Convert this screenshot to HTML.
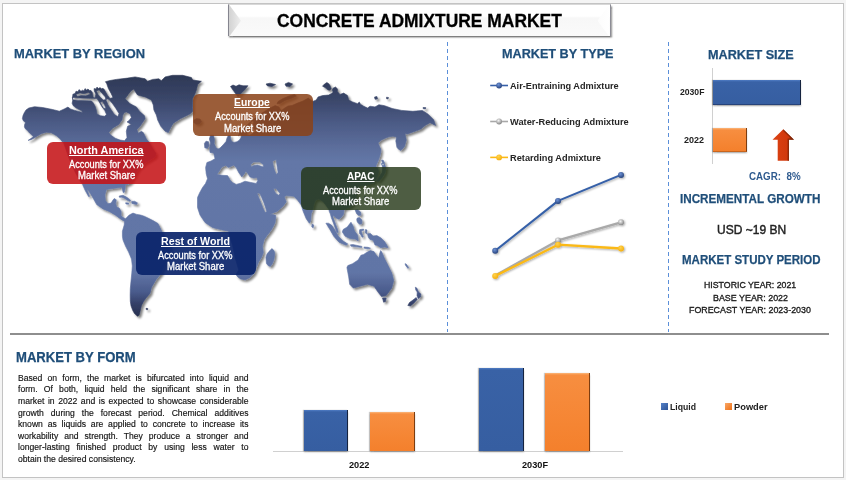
<!DOCTYPE html>
<html><head><meta charset="utf-8"><title>Concrete Admixture Market</title>
<style>
html,body{margin:0;padding:0;}
body{width:846px;height:480px;background:#f4f4f4;position:relative;overflow:hidden;font-family:"Liberation Sans",sans-serif;}
#frame{position:absolute;left:2px;top:3px;width:842px;height:475px;background:#fff;border:1px solid #c3c3c3;box-sizing:border-box;}
.t{position:absolute;white-space:nowrap;line-height:1;transform-origin:0 50%;}
.rb{position:absolute;border-radius:6px;}
.pl{position:absolute;left:18.4px;font-size:8.9px;line-height:1;color:#111;text-align:justify;text-align-last:justify;white-space:nowrap;transform-origin:0 50%;-webkit-text-stroke:0.15px #111;}
#hl{position:absolute;left:10px;top:333px;width:818.5px;height:1.7px;background:#8e8e8e;}
.vd{position:absolute;top:42px;width:1.2px;height:290px;background:repeating-linear-gradient(to bottom,#5b8fd9 0,#5b8fd9 4.4px,transparent 4.4px,transparent 7px);}
#title{position:absolute;left:228px;top:3.5px;width:382.5px;height:32.4px;background:linear-gradient(to bottom,#fff 0%,#fff 36%,#f7f7f7 42%,#fafafa 100%);box-shadow:1px 1.5px 1.6px rgba(0,0,0,0.5);border-left:1.2px solid #85858f;border-right:1px solid #8d8d96;border-top:1px solid #d8d8d8;box-sizing:border-box;overflow:hidden;}
#title:before{content:"";position:absolute;left:0;top:0;width:12px;height:32.4px;background:linear-gradient(to right,#d2d2d2,#eeeeee);clip-path:polygon(0 0,100% 50%,0 100%);}
#title:after{content:"";position:absolute;right:0;top:0;width:12px;height:32.4px;background:linear-gradient(to left,#ffffff,#fcfcfc);clip-path:polygon(100% 0,0 50%,100% 100%);}
.bar{position:absolute;box-sizing:border-box;}
.bl{background:linear-gradient(to bottom,#4f7cc4 0,#3962a6 2px,#365ea1 100%);border-right:1.5px solid #15233f;box-shadow:-1px 0 1px rgba(0,0,0,0.25),0 1.5px 1.5px rgba(0,0,0,0.25);}
.or{background:linear-gradient(to bottom,#fbb77c 0,#f78e40 2px,#f4802c 100%);border-right:1.5px solid #7d3d10;box-shadow:-1px 0 1px rgba(0,0,0,0.2),0 1.5px 1.5px rgba(0,0,0,0.25);}
.ax{position:absolute;background:#d0d0d0;}
</style></head><body>
<div id="frame"></div>
<div id="hl"></div>
<div class="vd" style="left:446.9px"></div>
<div class="vd" style="left:667.9px"></div>
<div id="title"></div>
<svg id="map" style="position:absolute;left:0;top:60px" width="450" height="270" viewBox="0 60 450 270">
<defs>
<linearGradient id="mgr" gradientUnits="userSpaceOnUse" x1="0" y1="75" x2="0" y2="316"><stop offset="0" stop-color="#2d3855"/><stop offset="0.1" stop-color="#3a4669"/><stop offset="0.2" stop-color="#4c5b86"/><stop offset="0.3" stop-color="#5c6e9c"/><stop offset="0.36" stop-color="#6377a7"/><stop offset="0.82" stop-color="#6175a6"/><stop offset="0.9" stop-color="#4a5b8c"/><stop offset="0.95" stop-color="#344067"/><stop offset="1" stop-color="#28314f"/></linearGradient>
<filter id="msh" x="-5%" y="-5%" width="110%" height="110%"><feGaussianBlur in="SourceAlpha" stdDeviation="1.1"/><feOffset dx="1.6" dy="1.8"/><feComponentTransfer><feFuncA type="linear" slope="0.5"/></feComponentTransfer><feMerge><feMergeNode/><feMergeNode in="SourceGraphic"/></feMerge></filter>
</defs>
<path fill="url(#mgr)" fill-rule="evenodd" filter="url(#msh)" stroke="url(#mgr)" stroke-width="0.6" stroke-linejoin="round" d="M22.4 118.7L23.0 115.5L24.4 112.5L26.0 110.0L28.7 108.1L34.5 106.7L42.5 107.5L52.5 109.5L59.3 111.2L64.2 109.0L67.9 107.1L70.8 109.2L75.0 110.4L82.5 112.5L81.7 110.8L76.7 108.3L73.3 105.8L72.1 103.3L72.9 99.6L72.5 97.5L72.9 94.2L75.0 93.5L76.0 91.2L78.0 91.8L79.0 89.6L81.0 91.3L82.5 90.2L84.0 91.0L85.0 88.6L86.5 90.0L88.0 89.0L89.5 90.5L91.0 90.5L92.3 92.5L93.2 97.5L95.0 98.0L95.8 94.0L94.3 91.0L94.0 88.6L96.0 89.0L97.0 87.1L98.5 88.6L100.0 87.6L101.5 88.8L103.0 88.3L104.3 89.6L105.6 92.0L107.6 95.4L110.0 98.6L113.0 97.4L111.0 93.2L108.3 88.3L106.8 83.8L105.4 81.7L110.0 80.5L116.3 79.4L127.6 78.1L135.1 76.9L145.2 78.8L147.5 81.3L152.6 79.4L158.8 78.8L161.3 80.7L165.1 76.9L172.6 75.3L182.6 75.3L191.4 77.5L192.7 80.0L201.4 81.3L197.7 84.4L196.4 90.1L194.5 95.1L192.7 98.8L192.5 107.6L192.8 111.3L190.3 113.8L186.5 115.7L180.2 118.8L173.3 123.2L170.8 127.6L168.3 132.6L165.2 131.3L160.8 126.3L157.7 120.1L156.4 115.0L153.9 110.0L153.3 105.0L151.4 100.0L145.1 96.9L137.6 95.0L135.0 91.3L133.9 88.9L131.0 91.0L128.2 94.4L125.1 98.8L130.1 103.8L136.4 106.9L139.5 111.3L144.5 115.7L145.1 118.8L142.6 122.6L140.1 126.3L137.0 129.5L138.2 133.2L141.4 131.3L143.3 132.6L146.4 138.9L148.9 142.0L150.5 144.5L153.0 149.0L156.0 153.5L155.0 157.0L150.0 160.0L145.0 163.0L139.3 168.0L136.0 173.0L132.7 179.6L130.2 182.9L127.5 184.5L125.5 184.4L125.2 188.0L124.3 192.3L123.2 192.6L122.3 189.0L121.7 187.3L118.0 187.8L113.0 188.6L109.0 189.0L106.3 189.8L104.9 195.0L105.5 200.6L108.0 203.7L111.1 203.1L113.0 200.0L114.2 198.5L116.3 199.8L115.7 203.7L116.7 206.9L119.2 208.1L121.1 211.2L121.1 215.6L123.0 217.5L125.5 218.7L126.7 217.5L129.2 215.0L133.0 213.1L136.7 214.4L140.5 215.0L144.2 216.2L148.0 218.1L153.0 220.6L158.0 223.5L161.0 229.5L162.3 232.4L168.0 241.5L170.5 247.3L168.9 254.8L165.6 263.0L162.3 270.5L161.0 273.7L156.2 279.4L151.6 287.2L150.0 293.4L146.5 297.5L143.7 301.2L141.5 305.5L140.6 309.0L139.7 313.0L139.0 315.3L137.5 316.2L134.5 313.5L132.8 310.6L131.0 305.8L130.3 301.2L130.2 295.0L130.3 288.7L131.0 281.0L131.8 273.0L132.3 266.0L131.5 259.0L128.6 252.0L125.5 246.0L123.0 240.0L122.4 236.2L122.4 231.2L124.2 225.0L124.6 221.5L120.5 218.9L115.5 215.2L109.2 211.4L103.0 208.9L96.7 204.6L94.2 200.0L90.5 193.7L87.8 189.5L87.3 190.2L89.6 196.4L88.6 196.6L85.2 190.5L83.2 186.0L82.4 183.7L81.4 182.9L75.6 173.0L69.0 158.1L63.2 141.5L62.5 141.9L60.0 138.7L56.2 135.6L51.2 132.7L46.2 132.2L41.2 133.7L36.9 136.2L34.5 137.8L31.5 139.5L28.1 140.4L30.8 138.6L33.4 136.7L31.9 135.0L29.5 133.0L27.5 130.6L25.5 129.0L24.4 126.9L24.6 124.5L25.6 122.5L23.5 121.0ZM119.2 196.0L123.0 195.3L126.0 196.8L128.5 198.5L130.7 200.4L129.8 201.3L127.0 200.0L124.0 198.0L121.5 197.3L119.4 197.3ZM131.7 201.5L134.5 201.2L137.4 202.8L136.8 204.4L134.0 204.0L131.9 203.4ZM125.7 202.7L128.8 203.0L128.6 204.3L125.9 204.0ZM146.0 308.3L147.8 308.5L147.6 309.8L146.2 309.6ZM194.0 120.0L196.5 118.6L200.0 119.0L201.5 121.5L199.5 124.0L196.0 124.3L193.8 122.5ZM230.5 86.5L233.0 85.0L236.0 86.3L239.0 84.8L243.0 85.8L247.9 85.7L245.0 89.5L241.5 93.0L238.0 96.8L235.5 93.5L233.0 90.0ZM266.0 84.0L270.0 83.2L275.5 84.5L272.0 86.5L267.5 86.0ZM285.0 84.0L288.5 82.4L292.6 84.0L290.0 86.5L286.0 86.2ZM294.5 94.5L296.5 96.0L291.0 98.5L285.0 100.5L280.0 103.5L277.0 103.8L278.0 101.5L283.0 98.5L289.0 96.0ZM238.3 136.0L239.6 133.0L246.0 126.0L254.0 119.0L260.0 114.5L264.4 111.4L270.0 108.0L275.2 105.6L279.0 107.0L281.0 111.0L284.0 108.5L288.0 106.0L292.0 105.5L297.5 103.1L303.0 101.0L308.3 98.1L312.7 101.5L316.2 100.0L318.1 96.9L322.5 95.6L328.7 95.0L331.5 93.5L333.1 92.3L332.3 90.0L333.0 88.2L335.5 87.0L337.4 88.8L337.5 91.7L340.0 94.4L343.7 93.1L347.5 95.6L348.7 100.0L352.5 101.9L357.5 103.7L359.3 102.0L360.5 104.3L363.7 106.2L367.5 108.1L370.0 106.2L375.0 106.9L378.9 104.7L384.6 105.7L392.1 108.5L401.6 110.4L412.9 111.3L422.4 110.4L428.1 114.2L433.7 119.8L435.6 125.5L430.0 122.7L425.2 125.5L420.5 129.3L412.9 132.1L407.3 134.0L405.0 133.6L406.3 140.0L404.6 146.4L402.5 149.0L400.6 150.4L398.5 149.2L396.9 147.3L395.8 141.0L396.6 137.0L393.0 136.2L389.0 136.8L385.6 138.1L381.5 140.0L378.1 142.8L379.3 146.0L380.9 149.4L380.6 153.0L380.0 155.5L378.3 160.6L376.2 165.3L375.8 167.3L377.0 167.2L378.6 171.0L377.8 175.0L376.0 179.5L374.0 182.5L369.0 184.5L363.0 185.5L358.5 186.5L357.0 190.0L356.6 197.0L355.2 202.0L351.5 206.0L347.0 208.3L344.0 209.6L343.8 212.0L343.4 214.6L341.5 217.2L339.0 219.2L336.5 218.3L334.3 216.3L333.0 215.2L333.2 217.5L334.6 221.5L336.3 226.0L337.8 230.0L338.2 232.5L336.8 232.3L335.2 228.0L333.2 222.5L331.3 217.5L330.4 214.0L329.3 211.5L329.0 209.8L326.5 206.0L323.0 201.5L319.0 199.0L315.5 200.0L313.8 204.5L312.5 210.6L311.2 213.7L310.6 221.2L309.4 223.3L306.2 218.7L303.1 211.2L301.2 205.0L297.5 200.0L293.7 196.2L286.2 195.6L284.4 196.9L286.2 201.9L283.1 206.2L277.5 211.2L270.0 214.3L272.5 214.6L275.6 215.3L275.8 217.5L275.0 222.8L273.5 226.0L271.9 229.0L269.5 232.5L267.2 235.3L264.0 240.0L262.5 246.2L263.3 252.5L261.7 257.2L258.6 261.9L256.2 268.1L253.9 273.6L250.0 277.5L245.3 279.8L240.6 279.0L237.5 276.7L235.9 274.4L238.7 270.0L235.0 257.5L232.5 245.0L229.0 235.0L228.7 231.2L222.5 230.0L212.5 227.5L205.0 222.5L200.0 215.0L197.5 207.5L197.5 197.5L199.5 193.0L202.5 187.5L205.5 183.5L207.5 178.7L206.2 173.7L205.6 167.5L206.9 162.5L211.0 161.0L215.0 158.7L213.7 153.0L210.0 152.5L209.6 148.0L210.5 143.0L209.4 139.0L210.5 135.2L213.5 135.2L214.5 139.5L214.2 143.5L215.8 147.5L218.0 149.0L220.0 148.0L223.0 145.0L226.0 141.5L227.0 138.0L228.3 135.4L230.3 135.4L230.6 139.0L231.8 141.6L234.0 142.4L237.0 141.7L239.5 140.0L241.0 137.5L241.6 135.2L240.0 134.5ZM204.4 143.5L206.0 141.2L208.6 141.8L209.0 145.5L207.5 148.5L204.8 147.8ZM271.9 248.6L273.6 250.0L274.7 252.5L274.5 256.5L273.7 260.3L272.2 264.0L270.3 266.6L268.0 265.5L266.4 263.4L265.9 257.2L267.0 254.0L268.7 251.7ZM381.6 160.0L383.3 160.3L384.6 163.0L383.6 165.6L381.8 165.0L382.3 162.5ZM381.5 163.5L384.5 164.0L386.0 168.0L385.0 173.0L382.0 178.0L378.5 181.5L376.5 181.0L379.0 177.0L382.0 172.5L382.5 167.0ZM364.5 196.0L366.0 196.5L365.5 200.0L364.2 199.5ZM312.0 224.0L313.8 225.0L313.2 227.8L311.8 227.0ZM325.9 223.2L328.5 223.2L331.7 225.3L334.8 230.0L338.4 236.2L343.1 241.0L347.8 244.0L346.2 245.3L339.0 242.2L333.7 236.2L329.6 229.0ZM350.4 244.8L353.0 244.6L357.0 245.4L361.9 246.4L361.6 247.5L356.5 246.8L351.0 246.2ZM364.0 247.0L368.0 247.3L370.5 248.2L368.0 248.8L364.3 248.3ZM351.0 222.2L353.0 225.8L354.6 231.0L356.5 233.5L357.7 235.2L358.2 241.0L355.1 238.9L352.0 238.8L349.4 238.3L345.2 236.2L342.3 232.1L343.1 229.5L347.3 226.9L349.3 224.3ZM355.1 209.9L358.0 209.7L360.6 212.0L360.8 215.2L358.5 215.4L356.5 213.5ZM357.2 218.0L359.5 217.5L361.9 220.0L361.8 223.8L359.5 224.3L357.3 222.0L356.7 219.8ZM359.8 229.5L363.6 229.0L363.8 230.2L361.3 231.0L362.0 233.5L363.3 236.8L362.2 237.3L360.6 234.5L359.5 233.5L359.4 231.0ZM365.5 229.5L367.0 230.0L366.8 234.0L365.4 233.0ZM367.5 233.7L370.5 233.5L373.0 236.0L376.9 235.6L381.0 238.0L384.3 241.2L386.5 244.5L388.1 247.8L384.5 247.0L380.6 247.8L377.5 245.5L375.0 245.0L373.1 240.3L370.0 239.5L368.4 237.5ZM346.9 267.5L347.8 265.6L352.5 263.7L358.1 260.0L360.9 255.3L363.7 254.4L366.5 252.5L370.3 250.6L374.0 251.6L375.9 254.4L378.7 258.1L379.5 254.0L380.6 250.6L381.8 252.0L384.3 258.1L388.1 265.6L391.8 273.1L393.7 280.6L391.8 288.1L386.2 295.6L381.5 296.5L377.8 291.8L374.0 286.2L367.5 284.3L360.0 286.2L353.4 288.1L349.7 284.3L348.7 276.9ZM382.5 298.0L386.2 298.0L385.5 301.5L383.6 302.2ZM415.3 287.2L416.8 288.0L418.5 292.0L420.9 294.0L420.5 297.0L418.2 298.6L417.0 295.5L417.3 292.0L415.8 290.0ZM416.2 297.5L417.2 299.5L414.0 303.0L410.5 306.0L407.8 305.5L409.5 302.5L413.0 300.0ZM405.0 263.7L406.2 264.0L408.7 267.6L408.0 268.4L405.6 265.5ZM374.5 97.0L377.0 96.5L377.5 99.0L375.0 99.3ZM386.5 97.2L388.5 97.5L388.0 99.0L386.5 98.7ZM423.0 107.5L425.8 107.6L425.5 108.9L423.2 108.7ZM322.5 86.2L324.5 84.0L326.9 82.5L328.8 83.8L330.0 85.6L331.2 88.7L329.8 90.2L328.1 90.0L326.3 88.6L325.0 87.5ZM126.3 111.9L130.1 113.8L131.4 117.6L128.8 120.7L127.0 121.9L131.4 124.4L127.6 126.3L126.3 131.3L127.0 137.6L124.5 140.7L120.1 140.1L115.1 138.2L110.7 135.1L108.8 132.6L112.6 128.2L118.8 124.4L122.0 120.1L122.8 115.1L124.5 112.5ZM72.3 97.2L80.0 98.0L88.0 98.3L93.5 98.3L97.0 98.6L99.3 102.0L101.8 106.5L104.8 110.5L106.5 114.5L104.5 116.2L100.5 115.8L97.0 114.0L96.3 110.0L95.0 106.0L93.0 102.5L91.5 100.9L86.0 100.7L78.0 100.4L72.7 99.8ZM105.5 98.6L108.8 99.2L112.5 103.5L115.8 108.2L119.0 113.5L117.8 116.8L114.2 114.2L111.0 109.5L108.0 105.0ZM96.5 91.0L99.2 90.0L102.0 93.2L105.0 96.6L106.5 99.5L103.2 100.0L100.5 97.5L98.0 94.5ZM76.0 94.6L80.0 93.0L84.0 93.8L88.5 92.5L90.5 94.0L86.0 95.8L81.0 95.5L77.5 96.6ZM100.2 102.2L102.3 101.3L104.5 104.8L106.0 108.2L103.8 108.6L101.8 105.3ZM216.9 174.6L221.9 167.0L225.6 165.4L228.7 167.5L231.2 166.2L233.7 165.2L236.2 167.5L238.7 172.5L241.9 176.9L244.4 173.7L245.6 171.2L247.5 173.1L250.0 176.9L253.7 178.1L256.9 177.5L257.8 180.5L256.2 183.4L251.0 182.5L245.0 181.2L240.5 183.2L236.2 184.4L232.5 182.5L230.0 180.0L228.5 177.0L227.5 175.6L222.0 175.3ZM250.6 164.4L253.7 161.9L260.0 161.9L263.7 165.0L263.1 166.9L257.5 165.0L253.7 165.6L251.2 166.9ZM272.5 161.2L276.2 159.4L276.9 165.0L278.1 172.5L276.2 174.4L274.4 170.0L273.1 165.0ZM257.0 193.0L259.8 193.3L261.7 197.5L264.0 203.0L265.7 208.0L266.8 211.8L265.0 212.5L262.8 207.5L260.6 202.0L258.4 197.0ZM273.4 188.4L276.0 188.4L278.2 191.0L280.0 193.6L278.6 195.2L276.0 193.7L274.3 191.0ZM246.0 131.0L249.0 125.5L252.0 121.0L254.0 121.5L252.5 126.0L254.5 129.5L258.0 128.5L258.5 130.5L253.0 133.0L249.5 135.5L247.0 135.0Z"/>
</svg>
<div class="rb" style="left:47.2px;top:141.9px;width:119.2px;height:41.9px;background:rgba(196,18,22,0.87)"></div>
<div class="rb" style="left:192.9px;top:93.9px;width:119.7px;height:41.7px;background:rgba(138,66,24,0.86)"></div>
<div class="rb" style="left:301.3px;top:166.9px;width:119.7px;height:43.0px;background:rgba(34,52,20,0.80)"></div>
<div class="rb" style="left:136.3px;top:232.1px;width:119.6px;height:42.8px;background:rgba(10,36,106,0.92)"></div>
<!-- market size chart -->
<div class="ax" style="left:712px;top:68px;width:1px;height:96px"></div>
<div class="bar bl" style="left:713px;top:79.9px;width:88.2px;height:24.8px;border-bottom:1.5px solid #27437a"></div>
<div class="bar or" style="left:713px;top:128px;width:33.6px;height:24px;border-bottom:1.5px solid #c9651d"></div>
<svg style="position:absolute;left:765px;top:125px" width="40" height="40" viewBox="765 125 40 40">
<defs><linearGradient id="ag" x1="0" x2="1" y1="0" y2="0"><stop offset="0" stop-color="#dc4213"/><stop offset="0.75" stop-color="#d0380c"/><stop offset="1" stop-color="#6b1d05"/></linearGradient></defs>
<path d="M783.3 129.2 L794 139.7 L789 139.7 L789 160.7 L777.7 160.7 L777.7 139.7 L772.5 139.7 Z" fill="url(#ag)"/>
<path d="M783.3 129.2 L794 139.7 L789 139.7 L789 160.7 L787.6 160.7 L787.6 138.6 L791 138.6 L783.3 131 Z" fill="#7a2407" opacity="0.75"/>
</svg>
<!-- line chart + legend -->
<svg style="position:absolute;left:480px;top:70px" width="180" height="220" viewBox="480 70 180 220">
<defs>
<radialGradient id="mb" cx="0.4" cy="0.35" r="0.7"><stop offset="0" stop-color="#6d92d6"/><stop offset="1" stop-color="#243f78"/></radialGradient>
<radialGradient id="mg" cx="0.4" cy="0.35" r="0.7"><stop offset="0" stop-color="#f4f4f4"/><stop offset="1" stop-color="#7d7d7d"/></radialGradient>
<radialGradient id="my" cx="0.4" cy="0.35" r="0.7"><stop offset="0" stop-color="#ffd34d"/><stop offset="1" stop-color="#f5ac0a"/></radialGradient>
<filter id="ls" x="-10%" y="-10%" width="120%" height="130%"><feGaussianBlur in="SourceAlpha" stdDeviation="0.8"/><feOffset dx="0.8" dy="1"/><feComponentTransfer><feFuncA type="linear" slope="0.35"/></feComponentTransfer><feMerge><feMergeNode/><feMergeNode in="SourceGraphic"/></feMerge></filter>
</defs>
<g fill="none" stroke-width="1.6"><path d="M490.2 85.5H508" stroke="#3660a8"/><path d="M490.2 121.5H508" stroke="#a8a8a8"/><path d="M490.2 157.4H508" stroke="#fbb916"/></g>
<circle cx="499.1" cy="85.5" r="2.9" fill="url(#mb)"/><circle cx="499.1" cy="121.5" r="2.9" fill="url(#mg)"/><circle cx="499.1" cy="157.4" r="2.9" fill="url(#my)"/>
<g filter="url(#ls)">
<g fill="none" stroke-width="2.3" stroke-linejoin="round" stroke-linecap="round">
<path d="M495.2 275.6L558 240.4L621 222.3" stroke="#a9a9a9"/>
<path d="M495.2 275.9L558 244.7L621 248.5" stroke="#fbb916"/>
<path d="M495.2 250.7L558 200.9L621 174.9" stroke="#3660a8" stroke-width="2.1"/>
</g>
<circle cx="558" cy="240.4" r="3" fill="url(#mg)"/><circle cx="621" cy="222.3" r="3" fill="url(#mg)"/>
<circle cx="495.2" cy="275.9" r="3" fill="url(#my)"/><circle cx="558" cy="244.7" r="3" fill="url(#my)"/><circle cx="621" cy="248.5" r="3" fill="url(#my)"/>
<circle cx="495.2" cy="250.7" r="3" fill="url(#mb)"/><circle cx="558" cy="200.9" r="3" fill="url(#mb)"/><circle cx="621" cy="174.9" r="3" fill="url(#mb)"/>
</g>
</svg>
<!-- form chart -->
<div class="ax" style="left:272.5px;top:451px;width:350.3px;height:1px"></div>
<div class="bar bl" style="left:304.2px;top:410.1px;width:43.9px;height:41px"></div>
<div class="bar or" style="left:370.1px;top:412.3px;width:44.6px;height:38.8px"></div>
<div class="bar bl" style="left:479.4px;top:368px;width:44.4px;height:83.1px"></div>
<div class="bar or" style="left:545px;top:373px;width:44.7px;height:78.1px"></div>
<div class="bar" style="left:660.8px;top:403px;width:7px;height:7px;background:linear-gradient(135deg,#5581c8,#2f5597)"></div>
<div class="bar" style="left:725px;top:403px;width:7px;height:7px;background:linear-gradient(135deg,#f9a868,#ee6f14)"></div>
<div class="t" id="t0" style="left:277.00px;top:11.58px;font-size:18.8px;font-weight:700;color:#000;transform:scaleX(0.9274);-webkit-text-stroke:0.3px #000;">CONCRETE ADMIXTURE MARKET</div>
<div class="t" id="t1" style="left:14.20px;top:47.19px;font-size:13.6px;font-weight:700;color:#1f4e79;transform:scaleX(0.9495);-webkit-text-stroke:0.25px #1f4e79;">MARKET BY REGION</div>
<div class="t" id="t2" style="left:502.20px;top:47.19px;font-size:13.6px;font-weight:700;color:#1f4e79;transform:scaleX(0.9304);-webkit-text-stroke:0.25px #1f4e79;">MARKET BY TYPE</div>
<div class="t" id="t3" style="left:708.20px;top:48.09px;font-size:13.6px;font-weight:700;color:#1f4e79;transform:scaleX(0.9312);-webkit-text-stroke:0.25px #1f4e79;">MARKET SIZE</div>
<div class="t" id="t4" style="left:679.80px;top:192.56px;font-size:12.8px;font-weight:700;color:#1f4e79;transform:scaleX(0.9129);-webkit-text-stroke:0.25px #1f4e79;">INCREMENTAL GROWTH</div>
<div class="t" id="t5" style="left:682.00px;top:253.56px;font-size:12.8px;font-weight:700;color:#1f4e79;transform:scaleX(0.8996);-webkit-text-stroke:0.25px #1f4e79;">MARKET STUDY PERIOD</div>
<div class="t" id="t6" style="left:16.40px;top:350.73px;font-size:13.9px;font-weight:700;color:#1f4e79;transform:scaleX(0.9419);-webkit-text-stroke:0.25px #1f4e79;">MARKET BY FORM</div>
<div class="t" id="t7" style="left:749.20px;top:169.98px;font-size:11.6px;font-weight:700;color:#2f5b8f;transform:scaleX(0.8431);white-space:pre;">CAGR:  8%</div>
<div class="t" id="t8" style="left:716.80px;top:223.49px;font-size:13.0px;font-weight:400;color:#222;transform:scaleX(0.9238);-webkit-text-stroke:0.45px #222;">USD ~19 BN</div>
<div class="t" id="t9" style="left:703.75px;top:279.50px;font-size:9.8px;font-weight:400;color:#1a1a1a;transform:scaleX(0.8948);-webkit-text-stroke:0.35px #1a1a1a;">HISTORIC YEAR: 2021</div>
<div class="t" id="t10" style="left:713.00px;top:292.70px;font-size:9.8px;font-weight:400;color:#1a1a1a;transform:scaleX(0.9079);-webkit-text-stroke:0.35px #1a1a1a;">BASE YEAR: 2022</div>
<div class="t" id="t11" style="left:689.40px;top:305.10px;font-size:9.8px;font-weight:400;color:#1a1a1a;transform:scaleX(0.9047);-webkit-text-stroke:0.35px #1a1a1a;">FORECAST YEAR: 2023-2030</div>
<div class="t" id="t12" style="left:680.00px;top:87.37px;font-size:9.6px;font-weight:700;color:#222;transform:scaleX(0.8970);">2030F</div>
<div class="t" id="t13" style="left:684.00px;top:135.37px;font-size:9.6px;font-weight:700;color:#222;transform:scaleX(0.9370);">2022</div>
<div class="t" id="t14" style="left:509.60px;top:80.89px;font-size:9.7px;font-weight:700;color:#262626;transform:scaleX(0.9466);">Air-Entraining Admixture</div>
<div class="t" id="t15" style="left:509.60px;top:116.89px;font-size:9.7px;font-weight:700;color:#262626;transform:scaleX(0.9561);">Water-Reducing Admixture</div>
<div class="t" id="t16" style="left:509.60px;top:152.79px;font-size:9.7px;font-weight:700;color:#262626;transform:scaleX(0.9533);">Retarding Admixture</div>
<div class="t" id="t17" style="left:349.40px;top:460.75px;font-size:8.8px;font-weight:700;color:#111;transform:scaleX(1.0471);">2022</div>
<div class="t" id="t18" style="left:522.00px;top:460.75px;font-size:8.8px;font-weight:700;color:#111;transform:scaleX(1.0420);">2030F</div>
<div class="t" id="t19" style="left:670.40px;top:402.09px;font-size:9.7px;font-weight:700;color:#222;transform:scaleX(0.8946);">Liquid</div>
<div class="t" id="t20" style="left:734.00px;top:402.09px;font-size:9.7px;font-weight:700;color:#222;transform:scaleX(0.9600);">Powder</div>
<div class="t" id="t21" style="left:68.95px;top:144.92px;font-size:11.2px;font-weight:700;color:#fff;transform:scaleX(0.9715);text-decoration:underline;text-decoration-thickness:1px;text-underline-offset:0.8px;text-decoration-skip-ink:none;">North America</div>
<div class="t" id="t22" style="left:69.00px;top:159.59px;font-size:10.4px;font-weight:400;color:#fff;transform:scaleX(0.8884);-webkit-text-stroke:0.3px #fff;">Accounts for XX%</div>
<div class="t" id="t23" style="left:77.60px;top:171.39px;font-size:10.4px;font-weight:400;color:#fff;transform:scaleX(0.9170);-webkit-text-stroke:0.3px #fff;">Market Share</div>
<div class="t" id="t24" style="left:234.25px;top:96.72px;font-size:11.2px;font-weight:700;color:#fff;transform:scaleX(0.9287);text-decoration:underline;text-decoration-thickness:1px;text-underline-offset:0.8px;text-decoration-skip-ink:none;">Europe</div>
<div class="t" id="t25" style="left:214.95px;top:111.69px;font-size:10.4px;font-weight:400;color:#fff;transform:scaleX(0.8884);-webkit-text-stroke:0.3px #fff;">Accounts for XX%</div>
<div class="t" id="t26" style="left:223.55px;top:123.59px;font-size:10.4px;font-weight:400;color:#fff;transform:scaleX(0.9170);-webkit-text-stroke:0.3px #fff;">Market Share</div>
<div class="t" id="t27" style="left:346.80px;top:171.02px;font-size:11.2px;font-weight:700;color:#fff;transform:scaleX(0.8907);text-decoration:underline;text-decoration-thickness:1px;text-underline-offset:0.8px;text-decoration-skip-ink:none;">APAC</div>
<div class="t" id="t28" style="left:323.35px;top:186.29px;font-size:10.4px;font-weight:400;color:#fff;transform:scaleX(0.8884);-webkit-text-stroke:0.3px #fff;">Accounts for XX%</div>
<div class="t" id="t29" style="left:331.95px;top:197.19px;font-size:10.4px;font-weight:400;color:#fff;transform:scaleX(0.9170);-webkit-text-stroke:0.3px #fff;">Market Share</div>
<div class="t" id="t30" style="left:160.95px;top:235.62px;font-size:11.2px;font-weight:700;color:#fff;transform:scaleX(0.9529);text-decoration:underline;text-decoration-thickness:1px;text-underline-offset:0.8px;text-decoration-skip-ink:none;">Rest of World</div>
<div class="t" id="t31" style="left:158.30px;top:251.09px;font-size:10.4px;font-weight:400;color:#fff;transform:scaleX(0.8884);-webkit-text-stroke:0.3px #fff;">Accounts for XX%</div>
<div class="t" id="t32" style="left:166.90px;top:262.09px;font-size:10.4px;font-weight:400;color:#fff;transform:scaleX(0.9170);-webkit-text-stroke:0.3px #fff;">Market Share</div>
<div class="pl" style="top:374.21px;width:237.63px;transform:scaleX(0.97);">Based on form, the market is bifurcated into liquid and</div><div class="pl" style="top:385.21px;width:237.63px;transform:scaleX(0.97);">form. Of both, liquid held the significant share in the</div><div class="pl" style="top:397.21px;width:237.63px;transform:scaleX(0.97);">market in 2022 and is expected to showcase considerable</div><div class="pl" style="top:409.21px;width:237.63px;transform:scaleX(0.97);">growth during the forecast period. Chemical additives</div><div class="pl" style="top:420.21px;width:237.63px;transform:scaleX(0.97);">known as liquids are applied to concrete to increase its</div><div class="pl" style="top:432.21px;width:237.63px;transform:scaleX(0.97);">workability and strength. They produce a stronger and</div><div class="pl" style="top:443.21px;width:237.63px;transform:scaleX(0.97);">longer-lasting finished product by using less water to</div><div class="pl" style="top:455.21px;width:237.63px;transform:scaleX(0.97);text-align-last:left;">obtain the desired consistency.</div>
</body></html>
